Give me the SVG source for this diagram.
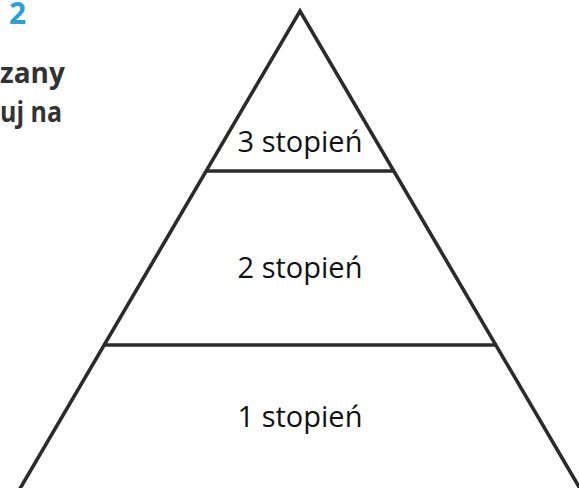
<svg xmlns="http://www.w3.org/2000/svg" width="579" height="488" viewBox="0 0 579 488">
<style>
.edge{stroke:#2b2b2b;stroke-width:3.6;fill:none;stroke-linecap:butt;stroke-linejoin:miter}
.lbl{font-family:"Open Sans","Liberation Sans",sans-serif;font-size:29px;fill:#111;text-anchor:middle}
.head{font-family:"Open Sans","Liberation Sans",sans-serif;font-size:28px;font-weight:bold;fill:#333}
</style>
<rect width="579" height="488" fill="#fff"/>
<g id="heading">
<text class="head" x="9" y="24" style="fill:#2a9fd8;font-size:30px">2</text>
<text class="head" x="0" y="83">zany</text>
<text class="head" x="0" y="122" textLength="62" lengthAdjust="spacingAndGlyphs">uj na</text>
</g>
<g id="connectors">
<polyline class="edge" points="18,492 300,11 582,492"/>
<line class="edge" x1="206" y1="171" x2="394" y2="171"/>
<line class="edge" x1="103" y1="345" x2="497" y2="345"/>
</g>
<g id="level3"><text class="lbl" x="300" y="152">3 stopień</text></g>
<g id="level2"><text class="lbl" x="300" y="278">2 stopień</text></g>
<g id="level1"><text class="lbl" x="300" y="427">1 stopień</text></g>
</svg>
